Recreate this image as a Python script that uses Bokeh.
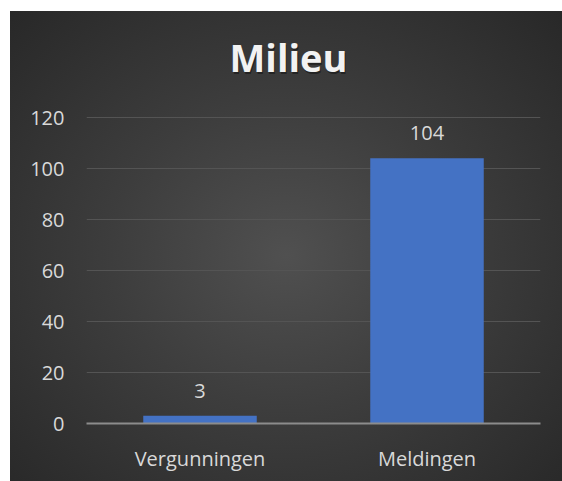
from bokeh.plotting import figure
from bokeh.models import ColumnDataSource, LabelSet, FixedTicker, Label
from bokeh.core.properties import value
from bokeh.embed import file_html
from bokeh.resources import INLINE

categories = ["Vergunningen", "Meldingen"]
values = [3, 104]
value_labels = ["3", "104"]
y_ticks = [0, 20, 40, 60, 80, 100, 120]
title_text = "Milieu"

src = ColumnDataSource(dict(cat=categories, val=values, lab=value_labels))

# frame spans the full canvas height above the axis, so the title can sit inside it
p = figure(x_range=categories, y_range=(0, 161.6), width=552, height=470,
           output_backend="svg", toolbar_location=None,
           min_border_left=76, min_border_right=22, min_border_top=0, min_border_bottom=58)
p.title = None
p.margin = (11, 0, 0, 10)

p.styles = {"background-image": "radial-gradient(ellipse farthest-corner at 50% 52%, #505050 0%, #3d3d3d 45%, #282828 100%)"}
p.background_fill_alpha = 0
p.border_fill_alpha = 0
p.outline_line_color = None

p.vbar(x="cat", top="val", width=0.5, source=src, fill_color="#4472C4", line_color=None)

labels = LabelSet(x="cat", y="val", text="lab", source=src, text_align="center",
                  text_baseline="alphabetic", y_offset=18, text_color="#d9d9d9",
                  text_font_size="20px", text_font=value("Open Sans"))
p.add_layout(labels)

shadow = Label(x=203, y=365, x_units="screen", y_units="screen", text=title_text,
               text_align="center", text_baseline="alphabetic", text_font="Open Sans",
               text_font_size="38px", text_font_style="bold", text_color="#000000", text_alpha=0.4)
title = Label(x=202, y=367, x_units="screen", y_units="screen", text=title_text,
              text_align="center", text_baseline="alphabetic", text_font="Open Sans",
              text_font_size="38px", text_font_style="bold", text_color="#f2f2f2")
p.add_layout(shadow)
p.add_layout(title)

p.yaxis.ticker = FixedTicker(ticks=y_ticks)
p.yaxis.axis_line_color = None
p.yaxis.major_tick_line_color = None
p.yaxis.minor_tick_line_color = None
p.yaxis.major_label_text_color = "#d9d9d9"
p.yaxis.major_label_text_font = "Open Sans"
p.yaxis.major_label_text_font_size = "20px"
p.yaxis.major_label_standoff = 16

p.xaxis.axis_line_color = "#8c8c8c"
p.xaxis.axis_line_width = 2
p.xaxis.major_tick_line_color = None
p.xaxis.minor_tick_line_color = None
p.xaxis.major_label_text_color = "#d9d9d9"
p.xaxis.major_label_text_font = "Open Sans"
p.xaxis.major_label_text_font_size = "20px"
p.xaxis.major_label_standoff = 15

p.xgrid.grid_line_color = None
p.ygrid.grid_line_color = "#545454"
p.ygrid.grid_line_width = 1

open("out.html", "w").write(file_html(p, INLINE))
